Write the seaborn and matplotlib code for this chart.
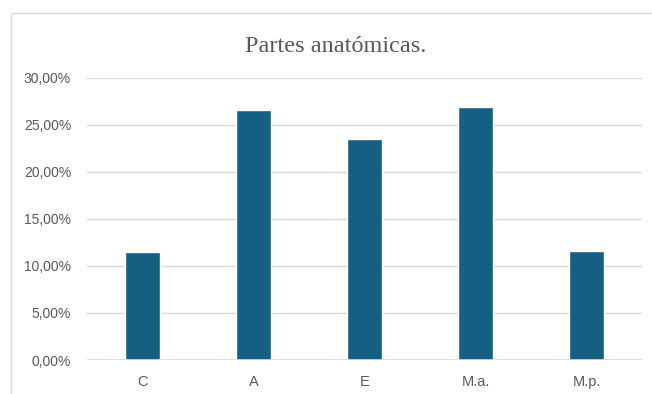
import matplotlib
matplotlib.use("Agg")
import matplotlib.pyplot as plt
from matplotlib.patches import Rectangle
from matplotlib.ticker import FuncFormatter, MultipleLocator
import seaborn as sns
import pandas as pd

# Share of each anatomical part (percent)
categories = ["C", "A", "E", "M.a.", "M.p."]
values = [11.44, 26.53, 23.49, 26.89, 11.62]
title_text = "Partes anatómicas."

bar_color = "#156082"
text_color = "#595959"
grid_color = "#d9d9d9"

sns.set_theme(style="white")
plt.rcParams["font.family"] = ["Liberation Sans", "DejaVu Sans"]

df = pd.DataFrame({"parte": categories, "porcentaje": values})

W, H = 652, 394
fig = plt.figure(figsize=(W / 100, H / 100), dpi=100)
fig.patch.set_facecolor("white")

# chart frame
fig.patches.append(Rectangle((10.5 / W, -0.1), 1.2, 1 - 12.5 / H + 0.1,
                             transform=fig.transFigure, fill=False,
                             edgecolor=grid_color, linewidth=1.0))

ax = fig.add_axes([87 / W, 1 - 360 / H, (642 - 87) / W, (360 - 77.7) / H])
sns.barplot(data=df, x="parte", y="porcentaje", color=bar_color,
            width=0.32, saturation=1, ax=ax, zorder=3)

ax.set_ylim(0, 30)
ax.set_xlim(-0.5, len(categories) - 0.5)
ax.yaxis.set_major_locator(MultipleLocator(5))
ax.yaxis.set_major_formatter(FuncFormatter(lambda v, p: f"{v:.2f}%".replace(".", ",")))
ax.grid(axis="y", color=grid_color, linewidth=1.0, zorder=0)
ax.grid(axis="x", visible=False)
for s in ax.spines.values():
    s.set_visible(False)
ax.axhline(0, color=grid_color, linewidth=1.2, zorder=4)
ax.set_xlabel("")
ax.set_ylabel("")
ax.tick_params(axis="y", length=0, pad=11.5, labelsize=10, labelcolor=text_color)
ax.tick_params(axis="x", length=0, pad=10.5, labelsize=10.5, labelcolor=text_color)
ax.set_facecolor("white")

fig.text(336 / W, 1 - 51.7 / H, title_text, ha="center", va="baseline",
         fontsize=17.5, color=text_color, family=["Liberation Serif", "DejaVu Serif"])

fig.savefig("out.png", dpi=100, facecolor="white")
